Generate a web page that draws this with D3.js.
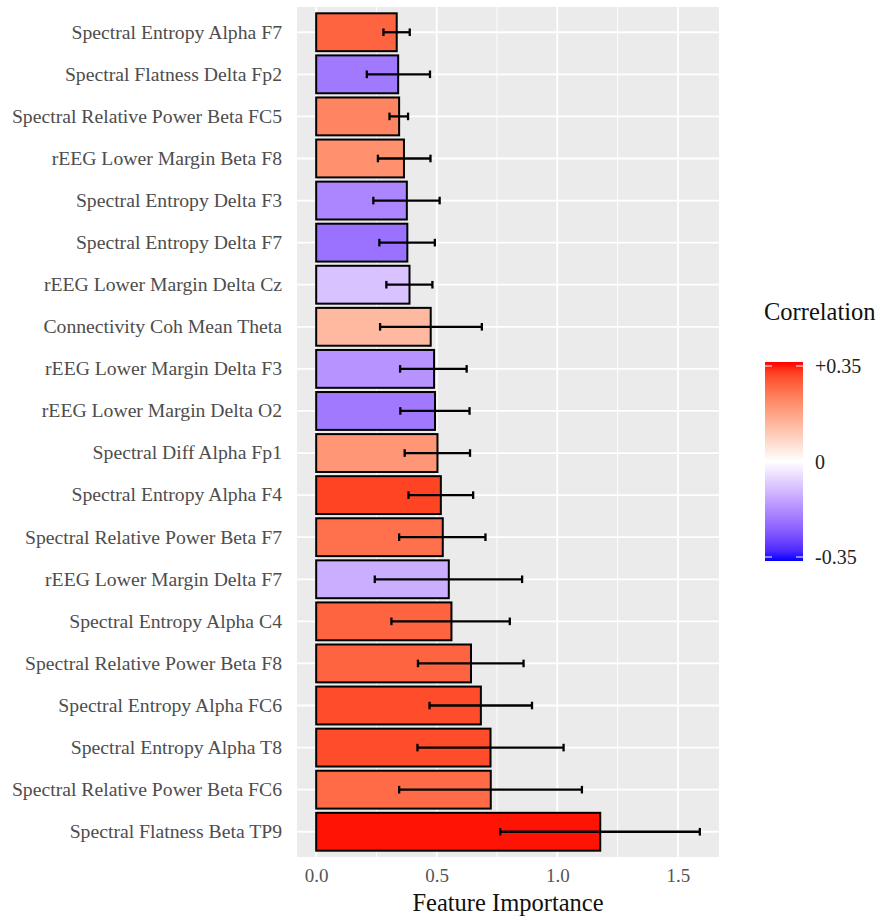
<!DOCTYPE html>
<html>
<head>
<meta charset="utf-8">
<script src="https://cdn.jsdelivr.net/npm/d3@7"></script>
<style>
  body { margin: 0; background: #fff; }
  svg { display: block; }
  text { font-family: "Liberation Serif", "DejaVu Serif", serif; }
</style>
</head>
<body>
<svg id="chart" width="882" height="920"></svg>
<script>
// ---- data (top to bottom) ----
const features = [
  "Spectral Entropy Alpha F7",
  "Spectral Flatness Delta Fp2",
  "Spectral Relative Power Beta FC5",
  "rEEG Lower Margin Beta F8",
  "Spectral Entropy Delta F3",
  "Spectral Entropy Delta F7",
  "rEEG Lower Margin Delta Cz",
  "Connectivity Coh Mean Theta",
  "rEEG Lower Margin Delta F3",
  "rEEG Lower Margin Delta O2",
  "Spectral Diff Alpha Fp1",
  "Spectral Entropy Alpha F4",
  "Spectral Relative Power Beta F7",
  "rEEG Lower Margin Delta F7",
  "Spectral Entropy Alpha C4",
  "Spectral Relative Power Beta F8",
  "Spectral Entropy Alpha FC6",
  "Spectral Entropy Alpha T8",
  "Spectral Relative Power Beta FC6",
  "Spectral Flatness Beta TP9"
];
const importance = [0.334, 0.340, 0.344, 0.364, 0.376, 0.378, 0.387, 0.475, 0.489, 0.493,
                    0.503, 0.517, 0.525, 0.550, 0.561, 0.642, 0.683, 0.723, 0.724, 1.178];
const errLow  = [0.279, 0.210, 0.304, 0.256, 0.237, 0.262, 0.291, 0.265, 0.348, 0.349,
                 0.367, 0.383, 0.344, 0.243, 0.312, 0.422, 0.470, 0.420, 0.344, 0.763];
const errHigh = [0.388, 0.472, 0.381, 0.474, 0.512, 0.492, 0.482, 0.687, 0.624, 0.636,
                 0.638, 0.651, 0.702, 0.854, 0.803, 0.860, 0.895, 1.026, 1.102, 1.591];
const correlation = [0.27, -0.20, 0.22, 0.20, -0.18, -0.21, -0.09, 0.13, -0.16, -0.20,
                     0.19, 0.31, 0.25, -0.12, 0.27, 0.27, 0.30, 0.30, 0.26, 0.345];
const xTicks = [0, 0.5, 1.0, 1.5];
const xMinorTicks = [0.25, 0.75, 1.25];
const legendTicks = [0.35, 0, -0.35];
const legendTickLabels = ["+0.35", "0", "-0.35"];

const data = features.map((f, i) => ({
  feature: f, imp: importance[i], lo: errLow[i], hi: errHigh[i], cor: correlation[i]
}));

// ---- layout ----
const svg = d3.select("#chart");
const panel = { left: 297, right: 719, top: 7, bottom: 857 };

const xMax = d3.max(errHigh);
const xPad = 0.05 * xMax;
const x = d3.scaleLinear().domain([-xPad, xMax + xPad]).range([panel.left, panel.right]);

const y = d3.scaleBand().domain(features)
  .range([panel.top, panel.bottom])
  .paddingInner(0.1).paddingOuter(0.15);
const yc = f => y(f) + y.bandwidth() / 2;

const color = d3.scaleLinear().domain([-0.35, 0, 0.35])
  .range(["#0000FF", "#FFFFFF", "#FF0000"])
  .interpolate(d3.interpolateLab).clamp(true);

// panel background
svg.append("rect").attr("x", panel.left).attr("y", panel.top)
  .attr("width", panel.right - panel.left).attr("height", panel.bottom - panel.top)
  .attr("fill", "#EBEBEB");

// minor grid
svg.append("g").selectAll("line").data(xMinorTicks).join("line")
  .attr("x1", d => x(d)).attr("x2", d => x(d))
  .attr("y1", panel.top).attr("y2", panel.bottom)
  .attr("stroke", "#fff").attr("stroke-width", 0.9);
// major grid
svg.append("g").selectAll("line").data(xTicks).join("line")
  .attr("x1", d => x(d)).attr("x2", d => x(d))
  .attr("y1", panel.top).attr("y2", panel.bottom)
  .attr("stroke", "#fff").attr("stroke-width", 1.8);
svg.append("g").selectAll("line").data(features).join("line")
  .attr("x1", panel.left).attr("x2", panel.right)
  .attr("y1", d => yc(d)).attr("y2", d => yc(d))
  .attr("stroke", "#fff").attr("stroke-width", 1.8);

// bars
svg.append("g").selectAll("rect").data(data).join("rect")
  .attr("x", x(0)).attr("y", d => y(d.feature))
  .attr("width", d => x(d.imp) - x(0)).attr("height", y.bandwidth())
  .attr("fill", d => color(d.cor))
  .attr("stroke", "#000").attr("stroke-width", 2);

// error bars
const eb = svg.append("g").attr("stroke", "#000").attr("stroke-width", 2.3);
const cap = 3.8;
eb.selectAll("line.h").data(data).join("line").attr("class", "h")
  .attr("x1", d => x(d.lo)).attr("x2", d => x(d.hi))
  .attr("y1", d => yc(d.feature)).attr("y2", d => yc(d.feature));
eb.selectAll("line.l").data(data).join("line").attr("class", "l")
  .attr("x1", d => x(d.lo)).attr("x2", d => x(d.lo))
  .attr("y1", d => yc(d.feature) - cap).attr("y2", d => yc(d.feature) + cap);
eb.selectAll("line.r").data(data).join("line").attr("class", "r")
  .attr("x1", d => x(d.hi)).attr("x2", d => x(d.hi))
  .attr("y1", d => yc(d.feature) - cap).attr("y2", d => yc(d.feature) + cap);

// y axis labels
const yAxis = d3.axisLeft(y).tickSize(3).tickPadding(9);
const gy = svg.append("g").attr("transform", `translate(${panel.left - 3},0)`)
  .attr("font-family", "Liberation Serif, serif").call(yAxis);
gy.select(".domain").remove();
gy.selectAll(".tick line").attr("stroke-width", 0);
gy.selectAll(".tick text").attr("fill", "#4D4D4D").attr("font-size", 19.7)
  .attr("font-family", "Liberation Serif, serif");

// x axis
const xAxis = d3.axisBottom(x).tickValues(xTicks).tickFormat(d3.format(".1f")).tickSize(3).tickPadding(9);
const gx = svg.append("g").attr("transform", `translate(0,${panel.bottom})`).call(xAxis);
gx.select(".domain").remove();
gx.selectAll(".tick line").attr("stroke-width", 0);
gx.selectAll(".tick text").attr("fill", "#555").attr("font-size", 19)
  .attr("font-family", "Liberation Serif, serif");

svg.append("text")
  .attr("x", (panel.left + panel.right) / 2).attr("y", 911)
  .attr("text-anchor", "middle").attr("font-size", 24.5).attr("fill", "#111")
  .text("Feature Importance");

// legend
const lg = { x: 765, top: 362, bottom: 561, w: 38 };
const defs = svg.append("defs");
const grad = defs.append("linearGradient").attr("id", "cgrad")
  .attr("x1", 0).attr("y1", 1).attr("x2", 0).attr("y2", 0);
d3.range(0, 1.0001, 0.05).forEach(t => {
  grad.append("stop").attr("offset", t).attr("stop-color", color(-0.35 + 0.7 * t));
});
svg.append("text").attr("x", lg.x - 1).attr("y", 320).attr("font-size", 24.5).attr("fill", "#111")
  .text("Correlation");
svg.append("rect").attr("x", lg.x).attr("y", lg.top).attr("width", lg.w)
  .attr("height", lg.bottom - lg.top).attr("fill", "url(#cgrad)");
const ly = d3.scaleLinear().domain([-0.35, 0.35]).range([lg.bottom - 4, lg.top + 4]);
const lt = svg.append("g");
legendTicks.forEach((v, i) => {
  const yy = ly(v);
  lt.append("line").attr("x1", lg.x).attr("x2", lg.x + 7).attr("y1", yy).attr("y2", yy)
    .attr("stroke", "#fff").attr("stroke-width", 1);
  lt.append("line").attr("x1", lg.x + lg.w - 7).attr("x2", lg.x + lg.w).attr("y1", yy).attr("y2", yy)
    .attr("stroke", "#fff").attr("stroke-width", 1);
  lt.append("text").attr("x", lg.x + lg.w + 12).attr("y", yy).attr("dy", "0.35em")
    .attr("font-size", 20).attr("fill", "#222").text(legendTickLabels[i]);
});
</script>
</body>
</html>
